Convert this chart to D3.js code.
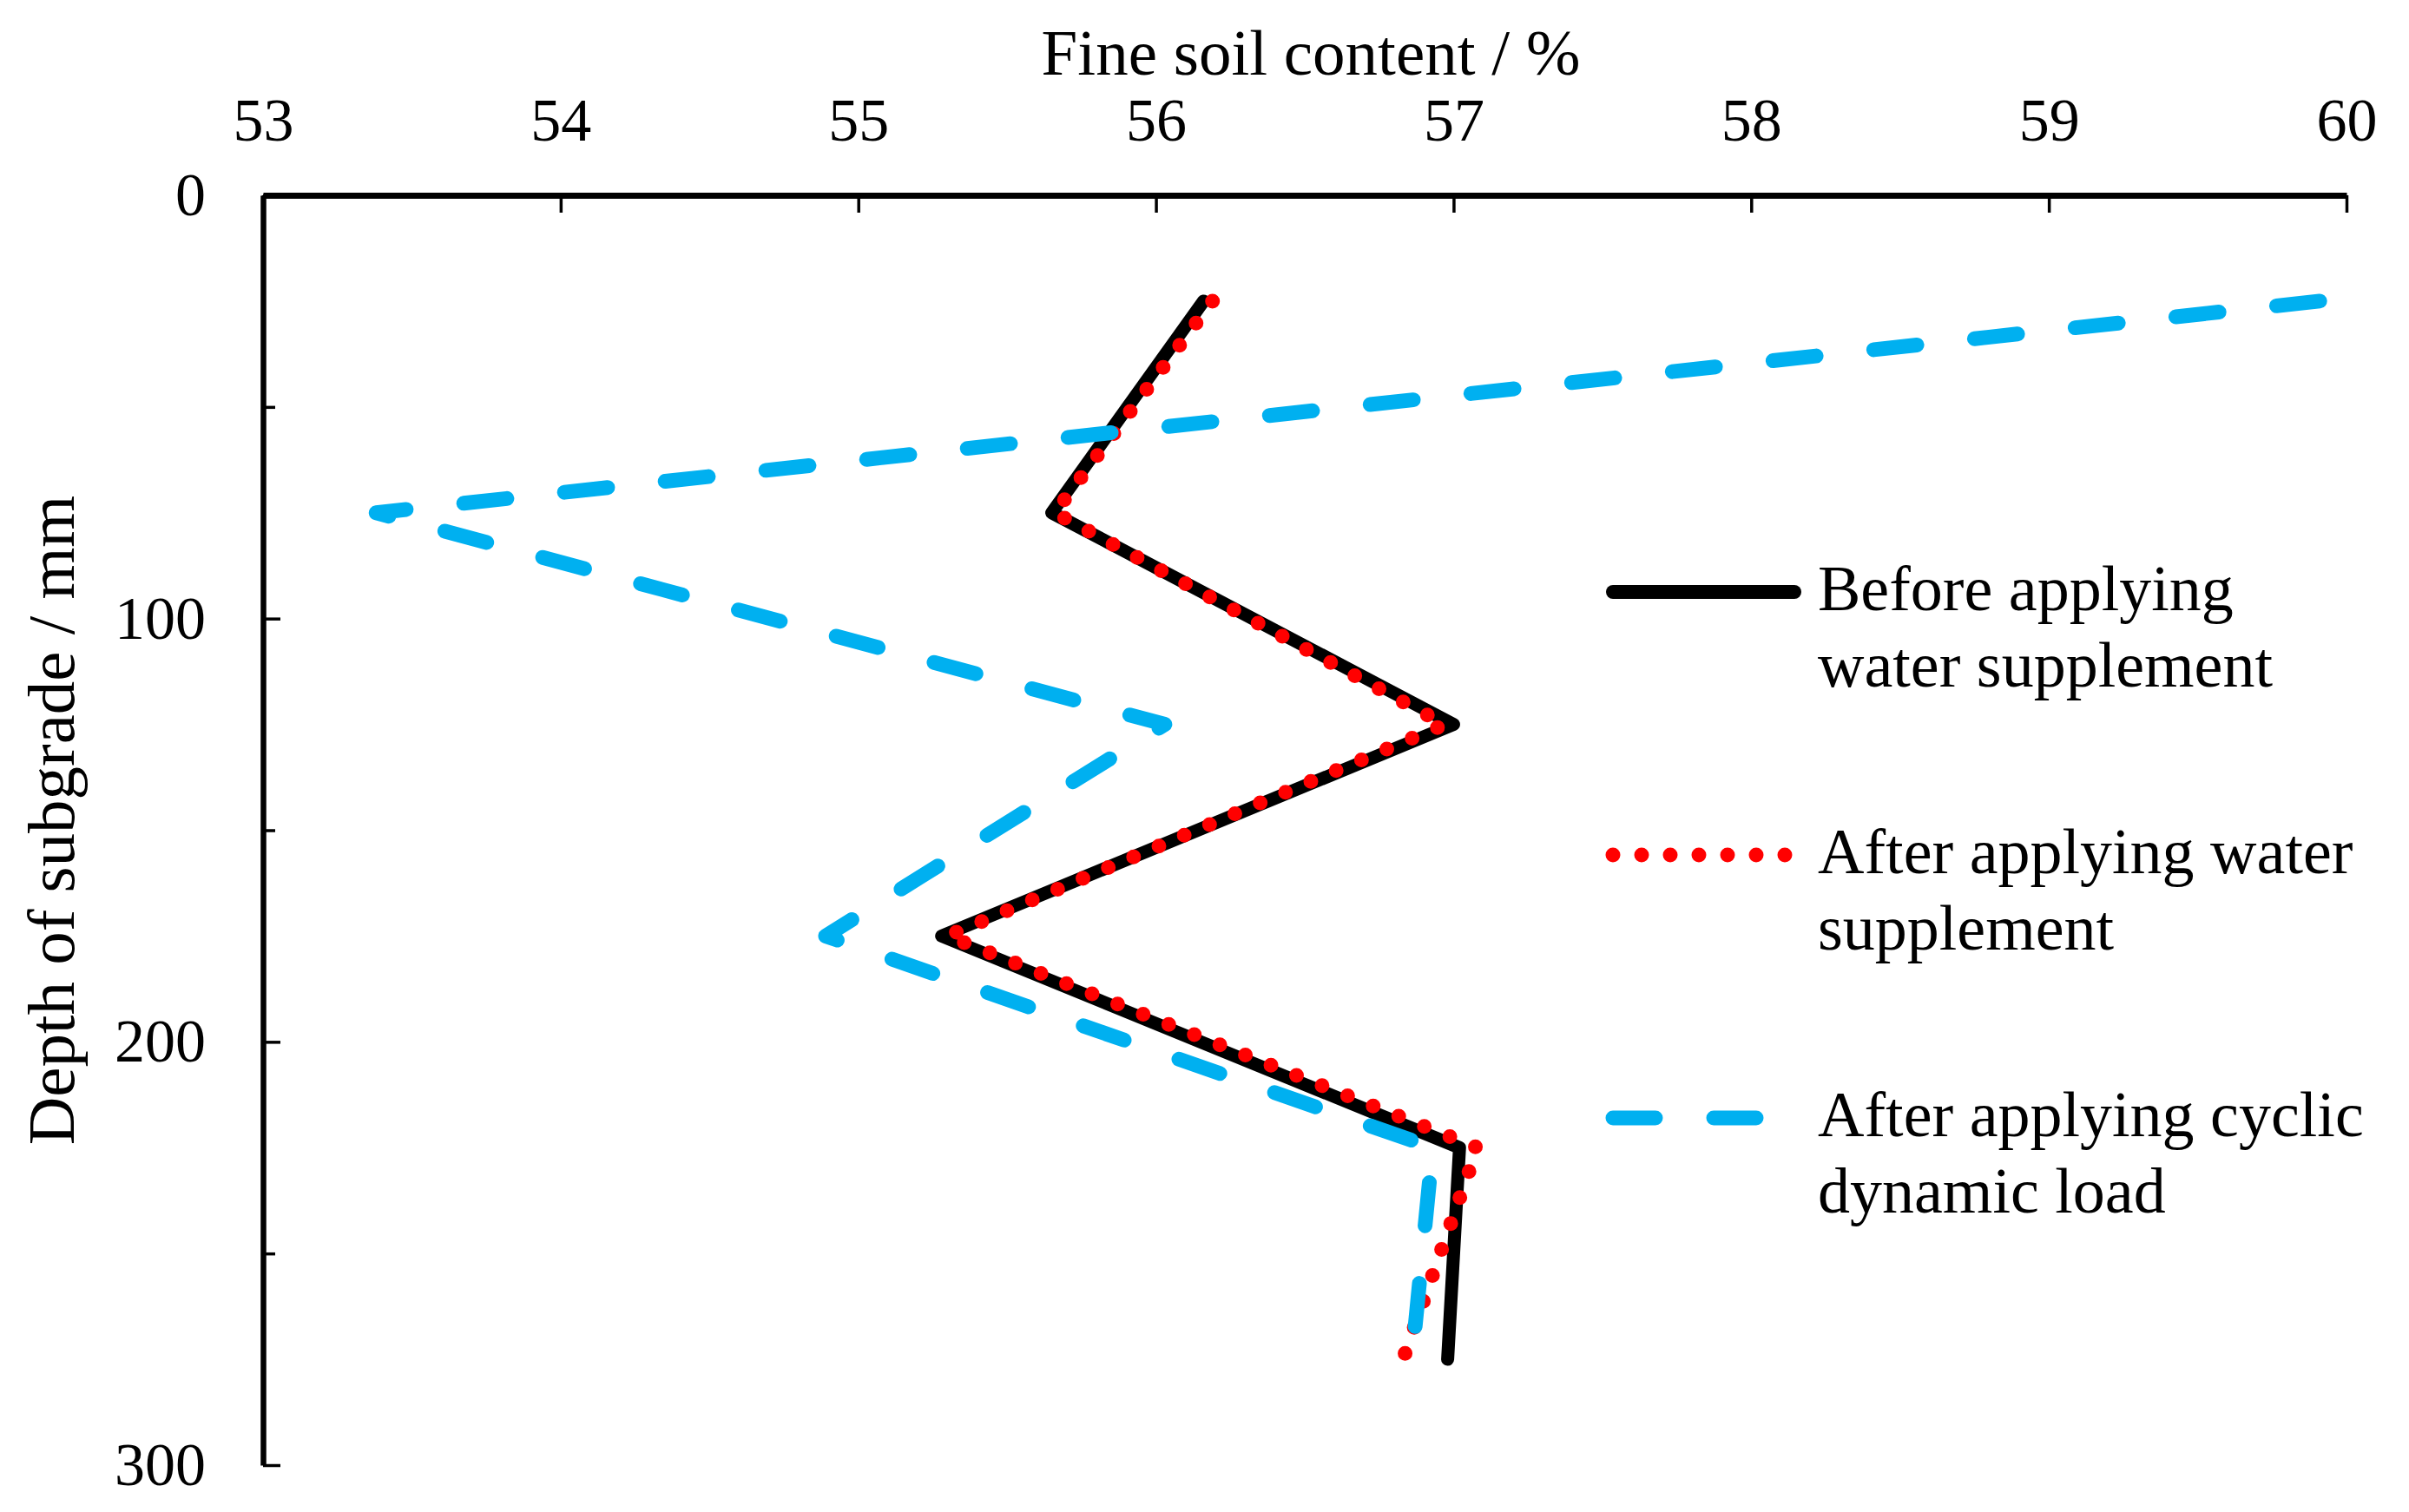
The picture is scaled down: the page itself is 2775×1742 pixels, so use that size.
<!DOCTYPE html>
<html>
<head>
<meta charset="utf-8">
<script src="https://cdn.jsdelivr.net/npm/d3@7"></script>
<style>
  html, body { margin: 0; padding: 0; background: #fff; }
  svg { display: block; }
  text { font-family: "Liberation Serif", "Times New Roman", serif; fill: #000; }
</style>
</head>
<body>
<svg id="chart" width="2775" height="1742"></svg>
<script>
// ---- data ----
const depths = [25, 75, 125, 175, 225, 275];
const beforeWater = [56.16, 55.65, 57.00, 55.28, 57.02, 56.98];
const afterWater  = [56.19, 55.66, 56.97, 55.30, 57.08, 56.83];
const afterCyclic = [59.91, 53.38, 56.03, 54.89, 56.93, 56.86];
const xTicks = [53, 54, 55, 56, 57, 58, 59, 60];
const yMajorTicks = [0, 100, 200, 300];
const yMinorTicks = [50, 150, 250];
const seriesNames = [
  ["Before applying", "water supplement"],
  ["After applying water", "supplement"],
  ["After applying cyclic", "dynamic load"]
];

// ---- layout ----
const svg = d3.select("#chart");
const x = d3.scaleLinear().domain([53, 60]).range([303, 2703]);
const y = d3.scaleLinear().domain([0, 300]).range([225, 1688]);

const styles = [
  { color: "#000000", width: 15, dash: null },
  { color: "#FF0000", width: 17, dash: "0 31.7" },
  { color: "#00B0F0", width: 17, dash: "50 66.7" }
];
const allSeries = [beforeWater, afterWater, afterCyclic];

// axes
const xAxis = d3.axisTop(x).tickValues(xTicks).tickSizeInner(-20).tickSizeOuter(0).tickPadding(63)
  .tickFormat(d3.format("d"));
const gx = svg.append("g").attr("transform", `translate(0,${y(0)})`).call(xAxis);
gx.select(".domain").attr("stroke-width", 7).attr("stroke", "#000");
gx.selectAll(".tick line").attr("stroke-width", 3.5).attr("stroke", "#000");
gx.selectAll(".tick text").attr("font-size", 70).attr("font-family", "Liberation Serif, Times New Roman, serif");

const yAxis = d3.axisLeft(y).tickValues(yMajorTicks).tickSizeInner(-20).tickSizeOuter(0).tickPadding(66)
  .tickFormat(d3.format("d"));
const gy = svg.append("g").attr("transform", `translate(${x(53)},0)`).call(yAxis);
gy.select(".domain").attr("stroke-width", 6.5).attr("stroke", "#000");
gy.selectAll(".tick line").attr("stroke-width", 3.5).attr("stroke", "#000");
gy.selectAll(".tick text").attr("font-size", 70).attr("font-family", "Liberation Serif, Times New Roman, serif");

const yMinor = d3.axisLeft(y).tickValues(yMinorTicks).tickSizeInner(-14).tickSizeOuter(0).tickFormat("");
const gym = svg.append("g").attr("transform", `translate(${x(53)},0)`).call(yMinor);
gym.select(".domain").remove();
gym.selectAll(".tick line").attr("stroke-width", 3.5).attr("stroke", "#000");

// axis titles
svg.append("text").attr("x", 1510).attr("y", 86).attr("text-anchor", "middle")
  .attr("font-size", 75).text("Fine soil content / %");
svg.append("text").attr("transform", "translate(85,945) rotate(-90)").attr("text-anchor", "middle")
  .attr("font-size", 77).text("Depth of subgrade / mm");

// lines
const line = d3.line().x(d => x(d[0])).y(d => y(d[1]));
allSeries.forEach((vals, i) => {
  const pts = vals.map((v, j) => [v, depths[j]]);
  const p = svg.append("path").datum(pts).attr("d", line)
    .attr("fill", "none").attr("stroke", styles[i].color).attr("stroke-width", styles[i].width)
    .attr("stroke-linecap", "round").attr("stroke-linejoin", "round");
  if (styles[i].dash) p.attr("stroke-dasharray", styles[i].dash);
});

// legend
const legY = [682, 985, 1288];
const lx = d3.scaleLinear().domain([0, 1]).range([1858, 2067]);
seriesNames.forEach((lines, i) => {
  const p = svg.append("path")
    .attr("d", d3.line()([[lx(0), legY[i]], [lx(1), legY[i]]]))
    .attr("fill", "none").attr("stroke", styles[i].color).attr("stroke-width", i === 0 ? 16 : 17)
    .attr("stroke-linecap", "round");
  if (i === 1) p.attr("stroke-dasharray", "0 33");
  if (i === 2) p.attr("stroke-dasharray", "49 67");
  const t = svg.append("text").attr("x", 2094).attr("y", legY[i] + 21).attr("font-size", 74);
  lines.forEach((s, k) => {
    t.append("tspan").attr("x", 2094).attr("dy", k === 0 ? 0 : 88).text(s);
  });
});
</script>
</body>
</html>
